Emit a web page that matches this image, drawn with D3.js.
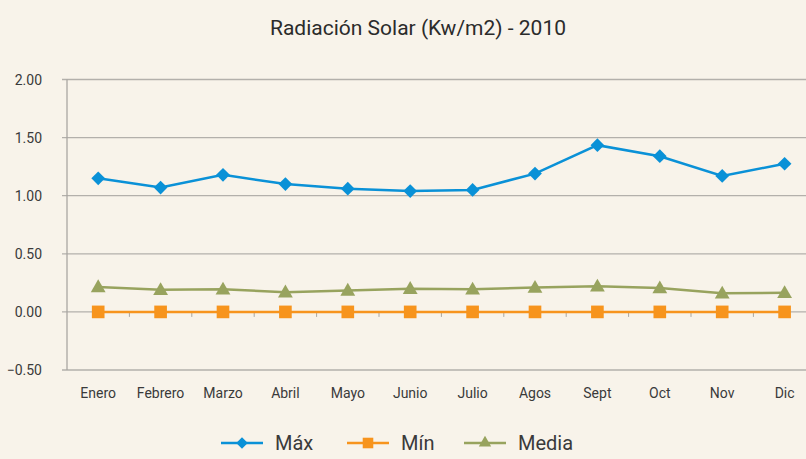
<!DOCTYPE html>
<html>
<head>
<meta charset="utf-8">
<script src="https://cdn.jsdelivr.net/npm/d3@7"></script>
<style>
  body { margin: 0; background: #f8f3ea; }
  svg { display: block; font-family: Roboto, "Liberation Sans", sans-serif; }
</style>
</head>
<body>
<svg width="806" height="459"></svg>
<script>
var meses = ["Enero", "Febrero", "Marzo", "Abril", "Mayo", "Junio", "Julio", "Agos", "Sept", "Oct", "Nov", "Dic"];
var maxVals = [1.15, 1.07, 1.18, 1.10, 1.06, 1.04, 1.05, 1.19, 1.435, 1.34, 1.17, 1.275];
var minVals = [0, 0, 0, 0, 0, 0, 0, 0, 0, 0, 0, 0];
var mediaVals = [0.215, 0.19, 0.195, 0.17, 0.185, 0.2, 0.195, 0.21, 0.22, 0.205, 0.16, 0.165];
var yTicks = [-0.5, 0, 0.5, 1, 1.5, 2];

var series = [
  { name: "Máx", values: maxVals, color: "#0a91d7", symbol: d3.symbolDiamond2, size: 120 },
  { name: "Mín", values: minVals, color: "#f7941d", symbol: d3.symbolSquare, size: 160 },
  { name: "Media", values: mediaVals, color: "#98a35e", symbol: d3.symbolTriangle, size: 95 }
];

var svg = d3.select("svg");
var left = 67, bandW = 62.4;

var x = d3.scaleBand().domain(meses).range([left, left + bandW * meses.length]);
var y = d3.scaleLinear().domain([-0.5, 2]).range([370, 79.5]);

svg.append("text")
  .attr("x", 418).attr("y", 35)
  .attr("text-anchor", "middle")
  .attr("font-size", 21)
  .attr("fill", "#2b2b2b")
  .text("Radiación Solar (Kw/m2) - 2010");

// grid
svg.append("g").selectAll("line").data(yTicks).enter().append("line")
  .attr("x1", left - 5).attr("x2", 806)
  .attr("y1", d => y(d)).attr("y2", d => y(d))
  .attr("stroke", "#b3b0ab").attr("stroke-width", 1.3);

// y axis line
svg.append("line")
  .attr("x1", left).attr("x2", left)
  .attr("y1", y(2)).attr("y2", y(-0.5))
  .attr("stroke", "#a9a6a1").attr("stroke-width", 1.3);

// category tick marks on zero line
svg.append("g").selectAll("line").data(meses.slice(1)).enter().append("line")
  .attr("x1", d => x(d)).attr("x2", d => x(d))
  .attr("y1", y(0)).attr("y2", y(0) + 5)
  .attr("stroke", "#a9a6a1").attr("stroke-width", 1);

svg.append("g").selectAll("text").data(yTicks).enter().append("text")
  .attr("x", 42).attr("y", d => y(d) + 5)
  .attr("text-anchor", "end")
  .attr("font-size", 14)
  .attr("fill", "#3a3a3a")
  .text(d3.format(".2f"));

svg.append("g").selectAll("text").data(meses).enter().append("text")
  .attr("x", d => x(d) + x.bandwidth() / 2).attr("y", 398)
  .attr("text-anchor", "middle")
  .attr("font-size", 14)
  .attr("fill", "#3a3a3a")
  .text(d => d);

var line = d3.line()
  .x((d, i) => x(meses[i]) + x.bandwidth() / 2)
  .y(d => y(d));

series.forEach(function (s) {
  var g = svg.append("g");
  g.append("path")
    .attr("d", line(s.values))
    .attr("fill", "none")
    .attr("stroke", s.color)
    .attr("stroke-width", 2.5);
  g.selectAll("path.m").data(s.values).enter().append("path")
    .attr("class", "m")
    .attr("transform", (d, i) => "translate(" + (x(meses[i]) + x.bandwidth() / 2) + "," + (y(d) + (s.symbol === d3.symbolTriangle ? 1 : 0)) + ")")
    .attr("d", d3.symbol().type(s.symbol).size(s.size))
    .attr("fill", s.color);
});

// legend
var legendX = [221, 347, 464];
series.forEach(function (s, i) {
  var g = svg.append("g").attr("transform", "translate(" + legendX[i] + ",443)");
  g.append("line").attr("x1", 0).attr("x2", 42)
    .attr("stroke", s.color).attr("stroke-width", 2.5);
  g.append("path")
    .attr("transform", "translate(21,0)")
    .attr("d", d3.symbol().type(s.symbol).size(s.size * 0.7))
    .attr("fill", s.color);
  g.append("text")
    .attr("x", 54).attr("y", 7)
    .attr("font-size", 20)
    .attr("fill", "#3a3a3a")
    .text(s.name);
});
</script>
</body>
</html>
